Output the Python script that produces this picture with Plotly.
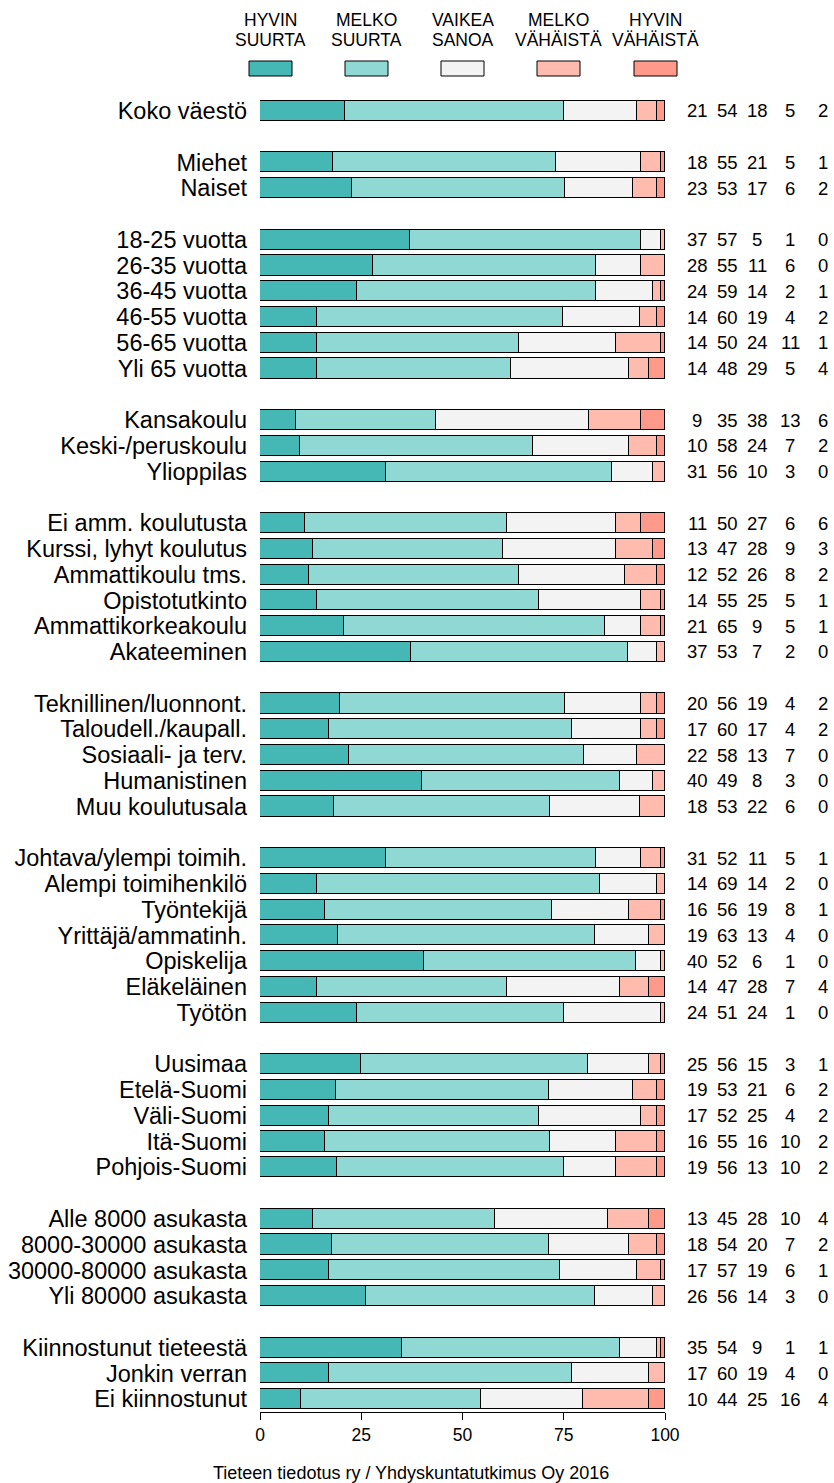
import plotly.graph_objects as go

# survey answers, percent per row
categories = [
    "Koko väestö",
    "Miehet", "Naiset",
    "18-25 vuotta", "26-35 vuotta", "36-45 vuotta", "46-55 vuotta", "56-65 vuotta", "Yli 65 vuotta",
    "Kansakoulu", "Keski-/peruskoulu", "Ylioppilas",
    "Ei amm. koulutusta", "Kurssi, lyhyt koulutus", "Ammattikoulu tms.", "Opistotutkinto",
    "Ammattikorkeakoulu", "Akateeminen",
    "Teknillinen/luonnont.", "Taloudell./kaupall.", "Sosiaali- ja terv.", "Humanistinen", "Muu koulutusala",
    "Johtava/ylempi toimih.", "Alempi toimihenkilö", "Työntekijä", "Yrittäjä/ammatinh.",
    "Opiskelija", "Eläkeläinen", "Työtön",
    "Uusimaa", "Etelä-Suomi", "Väli-Suomi", "Itä-Suomi", "Pohjois-Suomi",
    "Alle 8000 asukasta", "8000-30000 asukasta", "30000-80000 asukasta", "Yli 80000 asukasta",
    "Kiinnostunut tieteestä", "Jonkin verran", "Ei kiinnostunut",
]
group_sizes = [1, 2, 6, 3, 6, 5, 7, 5, 4, 3]

hyvin_suurta = [21, 18, 23, 37, 28, 24, 14, 14, 14, 9, 10, 31, 11, 13, 12, 14, 21, 37,
                20, 17, 22, 40, 18, 31, 14, 16, 19, 40, 14, 24, 25, 19, 17, 16, 19,
                13, 18, 17, 26, 35, 17, 10]
melko_suurta = [54, 55, 53, 57, 55, 59, 60, 50, 48, 35, 58, 56, 50, 47, 52, 55, 65, 53,
                56, 60, 58, 49, 53, 52, 69, 56, 63, 52, 47, 51, 56, 53, 52, 55, 56,
                45, 54, 57, 56, 54, 60, 44]
vaikea_sanoa = [18, 21, 17, 5, 11, 14, 19, 24, 29, 38, 24, 10, 27, 28, 26, 25, 9, 7,
                19, 17, 13, 8, 22, 11, 14, 19, 13, 6, 28, 24, 15, 21, 25, 16, 13,
                28, 20, 19, 14, 9, 19, 25]
melko_vahaista = [5, 5, 6, 1, 6, 2, 4, 11, 5, 13, 7, 3, 6, 9, 8, 5, 5, 2,
                  4, 4, 7, 3, 6, 5, 2, 8, 4, 1, 7, 1, 3, 6, 4, 10, 10,
                  10, 7, 6, 3, 1, 4, 16]
hyvin_vahaista = [2, 1, 2, 0, 0, 1, 2, 1, 4, 6, 2, 0, 6, 3, 2, 1, 1, 0,
                  2, 2, 0, 0, 0, 1, 0, 1, 0, 0, 4, 0, 1, 2, 2, 2, 2,
                  4, 2, 1, 0, 1, 0, 4]

series_names = [("HYVIN", "SUURTA"), ("MELKO", "SUURTA"), ("VAIKEA", "SANOA"),
                ("MELKO", "VÄHÄISTÄ"), ("HYVIN", "VÄHÄISTÄ")]
colors = ["#45B8B5", "#8FD8D3", "#F3F3F3", "#FFBBAD", "#FF9A8A"]

caption = "Tieteen tiedotus ry / Yhdyskuntatutkimus Oy 2016"

series = [hyvin_suurta, melko_suurta, vaikea_sanoa, melko_vahaista, hyvin_vahaista]

# row positions with an empty slot between groups
ypos = []
slot = 0
for g in group_sizes:
    for _ in range(g):
        ypos.append(slot)
        slot += 1
    slot += 1
last = ypos[-1]

totals = [sum(s[i] for s in series) for i in range(len(categories))]

W, H = 834, 1483
L, R = 260, 665      # pixel x of 0 and 100
T, B = 98, 1412      # plot top / bottom in pixels


def px_px(p):
    # pixel x -> paper x
    return (p - L) / (R - L)


def px_py(p):
    # pixel y -> paper y
    return (B - p) / (B - T)


fig = go.Figure()
for s, (a, b), c in zip(series, series_names, colors):
    fig.add_trace(go.Bar(
        y=ypos, x=[v / t * 100 for v, t in zip(s, totals)], orientation="h",
        name=a + " " + b, marker=dict(color=c, line=dict(color="black", width=1)),
        width=0.78, cliponaxis=False, showlegend=False))

annotations = []
shapes = []
font = "Liberation Sans, Arial, sans-serif"

# numbers on the right
col_x = [697, 727, 757, 790, 823]
for k, s in enumerate(series):
    for i, v in enumerate(s):
        annotations.append(dict(x=px_px(col_x[k]), y=ypos[i], xref="paper", yref="y", text=str(v),
                                showarrow=False, xanchor="center", yanchor="middle",
                                font=dict(size=18.5, color="black", family=font)))

# custom legend on top
leg_centers = [270.5, 366.5, 462.5, 558.5, 655.5]
for (a, b), c, cx in zip(series_names, colors, leg_centers):
    shapes.append(dict(type="rect", xref="paper", yref="paper",
                       x0=px_px(cx - 21.5), x1=px_px(cx + 21.5),
                       y0=px_py(76), y1=px_py(61),
                       fillcolor=c, line=dict(color="black", width=1)))
    for txt, yy in [(a, 20), (b, 40)]:
        annotations.append(dict(x=px_px(cx), y=px_py(yy), xref="paper", yref="paper", text=txt,
                                showarrow=False, xanchor="center", yanchor="middle",
                                font=dict(size=17.5, color="black", family=font)))

annotations.append(dict(x=px_px(411), y=px_py(1473), xref="paper", yref="paper", text=caption,
                        showarrow=False, xanchor="center", yanchor="middle",
                        font=dict(size=18, color="black", family=font)))

fig.update_layout(
    width=W, height=H, barmode="stack",
    margin=dict(l=L, r=W - R, t=T, b=H - B, pad=0, autoexpand=False),
    plot_bgcolor="white", paper_bgcolor="white",
    font=dict(family=font, color="black"),
    annotations=annotations, shapes=shapes,
    bargap=0,
)
fig.update_xaxes(range=[0, 100], tickvals=[0, 25, 50, 75, 100], ticks="outside", ticklen=7,
                 tickcolor="black", showline=True, linecolor="black", linewidth=1,
                 showgrid=False, zeroline=False, tickfont=dict(size=17.5), automargin=False)
fig.update_yaxes(range=[last + 0.5, -0.5], tickvals=ypos, ticktext=categories, ticks="",
                 showgrid=False, zeroline=False, showline=False, ticklabelstandoff=12,
                 tickfont=dict(size=23.5), automargin=False)

# page body has a default margin; drop it so the figure fills the window
fig.write_html("out.html", config={"displayModeBar": False},
               post_script="document.body.style.margin='0';")
